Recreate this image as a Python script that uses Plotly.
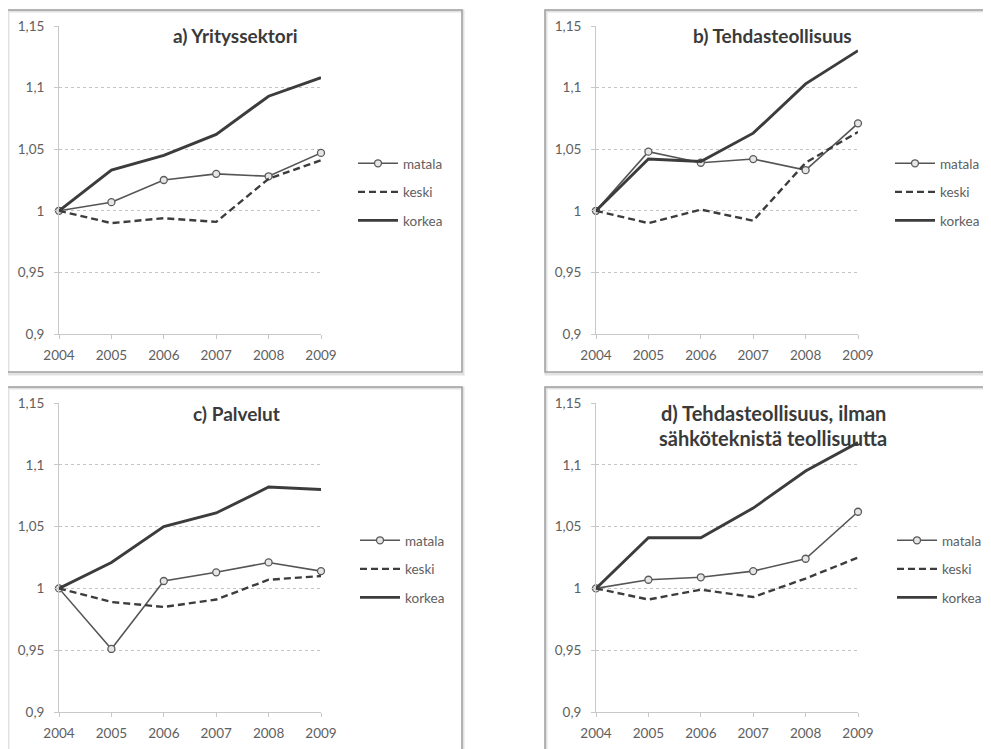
import plotly.graph_objects as go

# Page body has an 8px default margin; the figure is sized to fill the rest
OFF = 8
W, H = 991 - OFF, 749 - OFF

years = [2004, 2005, 2006, 2007, 2008, 2009]
series_names = ["matala", "keski", "korkea"]

a_matala = [1.000, 1.007, 1.025, 1.030, 1.028, 1.047]
a_keski = [1.000, 0.990, 0.994, 0.991, 1.026, 1.041]
a_korkea = [1.000, 1.033, 1.045, 1.062, 1.093, 1.108]

b_matala = [1.000, 1.048, 1.039, 1.042, 1.033, 1.071]
b_keski = [1.000, 0.990, 1.001, 0.992, 1.039, 1.064]
b_korkea = [1.000, 1.042, 1.040, 1.063, 1.103, 1.130]

c_matala = [1.000, 0.951, 1.006, 1.013, 1.021, 1.014]
c_keski = [1.000, 0.989, 0.985, 0.991, 1.007, 1.010]
c_korkea = [1.000, 1.021, 1.050, 1.061, 1.082, 1.080]

d_matala = [1.000, 1.007, 1.009, 1.014, 1.024, 1.062]
d_keski = [1.000, 0.991, 0.999, 0.993, 1.008, 1.025]
d_korkea = [1.000, 1.041, 1.041, 1.065, 1.095, 1.118]

y_tickvals = [0.9, 0.95, 1.0, 1.05, 1.1, 1.15]
y_ticktext = ["0,9", "0,95", "1", "1,05", "1,1", "1,15"]

titles = ["a) Yrityssektori", "b) Tehdasteollisuus", "c) Palvelut",
          "d) Tehdasteollisuus, ilman", "sähköteknistä teollisuutta"]

panels = [
    (a_matala, a_keski, a_korkea),
    (b_matala, b_keski, b_korkea),
    (c_matala, c_keski, c_korkea),
    (d_matala, d_keski, d_korkea),
]

FONT = "Lato, 'Open Sans', sans-serif"
LINE = "#3c3c3c"
TXT = "#606060"

def px_x(x):
    return (x - OFF) / W

def px_y(y):
    return 1 - (y - OFF) / H

# plot areas in page pixels: (x_left, x_right, y_top, y_bottom)
areas = [
    (59, 321, 26, 334),
    (596, 858, 26, 334),
    (59, 321, 403, 712),
    (596, 858, 403, 712),
]
legend_pos = [(353, 148), (890, 148), (355, 525), (892, 525)]

fig = go.Figure()

for i, (vals, area) in enumerate(zip(panels, areas)):
    n = "" if i == 0 else str(i + 1)
    leg = "legend" if i == 0 else "legend" + str(i + 1)
    styles = [
        dict(line=dict(color="#555555", width=1.6), mode="lines+markers",
             marker=dict(symbol="circle", size=7, color="#e6e6e6",
                         line=dict(color="#5a5a5a", width=1.3))),
        dict(line=dict(color=LINE, width=2.4, dash="7px,4px"), mode="lines"),
        dict(line=dict(color=LINE, width=2.9), mode="lines"),
    ]
    for name, v, st in zip(series_names, vals, styles):
        fig.add_trace(go.Scatter(
            x=years, y=v, name=name, xaxis="x" + n, yaxis="y" + n,
            legend=leg, legendgroup=f"{i}{name}", cliponaxis=False, **st))
    xl, xr, yt, yb = area
    fig.update_layout(**{
        "xaxis" + n: dict(domain=[px_x(xl), px_x(xr)], range=[2004, 2009],
                          tickvals=years, ticks="outside", ticklen=4,
                          tickcolor="#c8c8c8", showline=True, linecolor="#c8c8c8",
                          linewidth=1, showgrid=False, zeroline=False,
                          anchor="y" + n, automargin=False, ticklabelstandoff=5,
                          tickfont=dict(size=13.5, color=TXT, family=FONT),
                          fixedrange=True),
        "yaxis" + n: dict(domain=[px_y(yb), px_y(yt)], range=[0.9, 1.15],
                          tickvals=y_tickvals, ticktext=y_ticktext,
                          ticks="outside", ticklen=4, tickcolor="#c8c8c8",
                          showline=True, linecolor="#c8c8c8", linewidth=1,
                          showgrid=True, gridcolor="#c4c4c4", griddash="dot",
                          gridwidth=1, zeroline=False, anchor="x" + n,
                          automargin=False, ticklabelstandoff=7,
                          tickfont=dict(size=13.5, color=TXT, family=FONT),
                          fixedrange=True),
        leg: dict(x=px_x(legend_pos[i][0]), y=px_y(legend_pos[i][1]),
                  xanchor="left", yanchor="top", bgcolor="rgba(0,0,0,0)",
                  font=dict(size=13.5, color=TXT, family=FONT),
                  tracegroupgap=8, traceorder="grouped", itemwidth=40),
    })

# panel frames (page pixels)
frames = [(7, 462, 10, 372), (545, 1000, 10, 372), (7, 462, 387, 760), (545, 1000, 387, 760)]
shapes = []
for x0, x1, y0, y1 in frames:
    shapes.append(dict(type="rect", xref="paper", yref="paper",
                       x0=px_x(x0 + 1), x1=px_x(x1 + 1), y0=px_y(y1 + 2), y1=px_y(y0 + 1),
                       line=dict(color="#e2e2e2", width=3), layer="below"))
    shapes.append(dict(type="rect", xref="paper", yref="paper",
                       x0=px_x(x0), x1=px_x(x1), y0=px_y(y1), y1=px_y(y0),
                       line=dict(color="#a0a0a0", width=1.5), layer="below"))

title_pos = [(235, 35), (772, 35), (236, 413), (773, 413), (773, 438)]
title_size = [19, 19, 19, 20, 20]
annotations = []
for t, (x, y), s in zip(titles, title_pos, title_size):
    annotations.append(dict(text="<b>" + t + "</b>", x=px_x(x), y=px_y(y),
                            xref="paper", yref="paper", xanchor="center", yanchor="middle",
                            showarrow=False,
                            font=dict(size=s, color="#3a3a3a", family=FONT)))

fig.update_layout(width=W, height=H, margin=dict(l=0, r=0, t=0, b=0, autoexpand=False),
                  paper_bgcolor="white", plot_bgcolor="white",
                  shapes=shapes, annotations=annotations, showlegend=True,
                  font=dict(family=FONT, color=TXT))

fig.write_html("out.html")
